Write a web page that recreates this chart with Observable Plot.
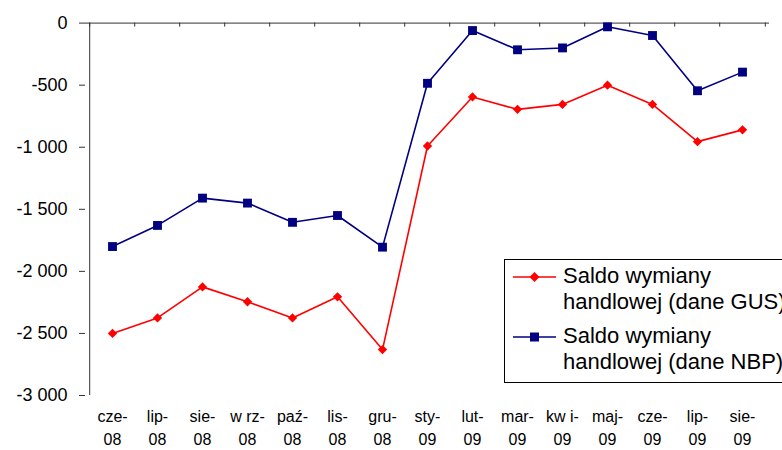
<!DOCTYPE html>
<html>
<head>
<meta charset="utf-8">
<script src="https://cdn.jsdelivr.net/npm/d3@7"></script>
<script src="https://cdn.jsdelivr.net/npm/@observablehq/plot@0.6"></script>
<style>
  html, body { margin: 0; padding: 0; background: #fff; overflow: hidden; }
  #wrap { position: relative; width: 782px; height: 450px; overflow: hidden;
          font-family: "Liberation Sans", Arial, sans-serif; }
  #wrap svg { overflow: hidden; }
  .legend { position: absolute; left: 504px; top: 259px; width: 320px; height: 124px;
            border: 1px solid #000; box-sizing: border-box; background: #fff; }
  .entry { position: absolute; left: 563px; font-size: 22px; line-height: 26px;
           color: #000; white-space: nowrap; }
  .swatch { position: absolute; left: 510px; width: 50px; height: 14px; }
</style>
</head>
<body>
<div id="wrap"></div>
<script>
// Monthly categories (June 2008 – August 2009)
const categories = ["cze-08", "lip-08", "sie-08", "wrz-08", "paź-08", "lis-08", "gru-08",
                    "sty-09", "lut-09", "mar-09", "kwi-09", "maj-09", "cze-09", "lip-09", "sie-09"];
const xTickLabels = ["cze-\n08", "lip-\n08", "sie-\n08", "w rz-\n08", "paź-\n08", "lis-\n08", "gru-\n08",
                     "sty-\n09", "lut-\n09", "mar-\n09", "kw i-\n09", "maj-\n09", "cze-\n09", "lip-\n09", "sie-\n09"];

// Trade balance, GUS data
const gus = [-2500, -2375, -2125, -2245, -2375, -2205, -2630,
             -990, -595, -695, -655, -500, -655, -955, -860];
// Trade balance, NBP data
const nbp = [-1800, -1630, -1410, -1450, -1605, -1550, -1805,
             -485, -60, -215, -200, -30, -100, -545, -395];

const yTicks = [0, -500, -1000, -1500, -2000, -2500, -3000];
const seriesNames = ["Saldo wymiany\nhandlowej (dane GUS)", "Saldo wymiany\nhandlowej (dane NBP)"];
const seriesColors = ["#ff0000", "#000080"];

const rows = categories.map((c, i) => ({month: c, gus: gus[i], nbp: nbp[i]}));
const labelOf = new Map(categories.map((c, i) => [c, xTickLabels[i]]));
const fmt = d3.formatLocale({decimal: ",", thousands: " ", grouping: [3], currency: ["", ""], minus: "-"}).format(",d");

const W = 782, H = 450, mL = 85, mR = 13, mT = 22.6, mB = 55;
const step = (W - mL - mR) / categories.length;
const axisColor = "#333";

const chart = Plot.plot({
  width: W, height: H,
  marginLeft: mL, marginRight: mR, marginTop: mT, marginBottom: mB,
  style: {fontFamily: "'Liberation Sans', Arial, sans-serif", background: "white", color: "black"},
  x: {type: "point", domain: categories, padding: 0.5, axis: null},
  y: {domain: [-3000, 0], axis: null},
  marks: [
    // axes lines: category axis sits at 0 (top), value axis on the left
    Plot.ruleY([0], {stroke: axisColor}),
    Plot.tickX([categories[0]], {x: d => d, dx: -step / 2, stroke: axisColor}),
    Plot.tickX(categories, {x: d => d, dx: -step / 2, insetBottom: H - mT - mB - 4, stroke: axisColor}),
    Plot.tickX([categories[categories.length - 1]], {x: d => d, dx: step / 2, insetBottom: H - mT - mB - 4, stroke: axisColor}),
    Plot.axisY({ticks: yTicks, tickSize: 6, tickPadding: 12, tickFormat: fmt, fontSize: 18, stroke: axisColor, label: null}),
    Plot.axisX({ticks: categories, tickSize: 0, tickPadding: 11, tickFormat: d => labelOf.get(d),
                fontSize: 16, lineHeight: 1.4, label: null}),
    // GUS series
    Plot.line(rows, {x: "month", y: "gus", stroke: seriesColors[0], strokeWidth: 1.6}),
    Plot.dot(rows, {x: "month", y: "gus", symbol: "diamond2", r: 4.2, fill: seriesColors[0]}),
    // NBP series
    Plot.line(rows, {x: "month", y: "nbp", stroke: seriesColors[1], strokeWidth: 1.6}),
    Plot.dot(rows, {x: "month", y: "nbp", symbol: "square", r: 5, fill: seriesColors[1]})
  ]
});

const wrap = document.getElementById("wrap");
wrap.appendChild(chart);

// Legend box
const legend = document.createElement("div");
legend.className = "legend";
wrap.appendChild(legend);

const entryTops = [263.4, 323.4];
const swatchCenters = [277, 337];
seriesNames.forEach((name, i) => {
  const sw = document.createElementNS("http://www.w3.org/2000/svg", "svg");
  sw.setAttribute("class", "swatch");
  sw.setAttribute("width", 50); sw.setAttribute("height", 14);
  sw.style.top = (swatchCenters[i] - 7) + "px";
  const line = document.createElementNS(sw.namespaceURI, "line");
  line.setAttribute("x1", 3); line.setAttribute("x2", 46);
  line.setAttribute("y1", 7); line.setAttribute("y2", 7);
  line.setAttribute("stroke", seriesColors[i]); line.setAttribute("stroke-width", 1.6);
  sw.appendChild(line);
  const mk = document.createElementNS(sw.namespaceURI, i === 0 ? "polygon" : "rect");
  if (i === 0) {
    mk.setAttribute("points", "24.5,2 29.5,7 24.5,12 19.5,7");
  } else {
    mk.setAttribute("x", 20); mk.setAttribute("y", 2.5);
    mk.setAttribute("width", 9); mk.setAttribute("height", 9);
  }
  mk.setAttribute("fill", seriesColors[i]);
  sw.appendChild(mk);
  wrap.appendChild(sw);

  const t = document.createElement("div");
  t.className = "entry";
  t.style.top = entryTops[i] + "px";
  t.innerHTML = name.split("\n").join("<br>");
  wrap.appendChild(t);
});
</script>
</body>
</html>
